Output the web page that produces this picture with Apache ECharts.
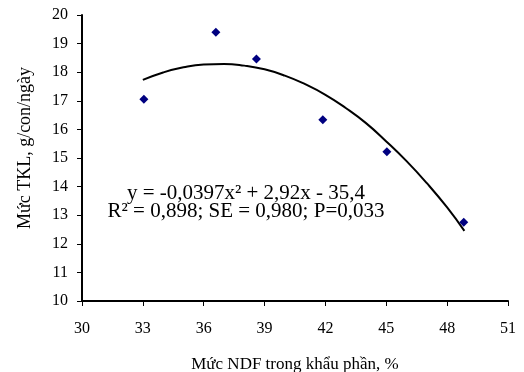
<!DOCTYPE html>
<html>
<head>
<meta charset="utf-8">
<script src="https://cdn.jsdelivr.net/npm/echarts@6/dist/echarts.min.js"></script>
<style>html,body{margin:0;padding:0;background:#fff;}#c{width:524px;height:372px;}</style>
</head>
<body>
<div id="c"></div>
<script>
// Observed data points (NDF %, TKL g/con/ngày)
const ndfPoints = [33.05, 36.6, 38.6, 41.87, 45.03, 48.82];
const tklPoints = [17.05, 19.40, 18.46, 16.34, 15.22, 12.75];
// Trend curve
const curveX = [33, 34, 35, 36, 37, 38, 39, 40, 41, 42, 43, 44, 45, 46, 47, 48, 48.85];
const curveY = [17.73, 17.99, 18.17, 18.27, 18.29, 18.23, 18.10, 17.88, 17.58, 17.21, 16.75, 16.22, 15.58, 14.89, 14.12, 13.27, 12.45];
const xTicks = [30, 33, 36, 39, 42, 45, 48, 51];
const yTicks = [10, 11, 12, 13, 14, 15, 16, 17, 18, 19, 20];
const eqLine1 = 'y = -0,0397x² + 2,92x - 35,4';
const eqLine2 = 'R² = 0,898; SE = 0,980; P=0,033';
const xTitle = 'Mức NDF trong khẩu phần, %';
const yTitle = 'Mức TKL, g/con/ngày';

const FONT = "'Liberation Serif', 'Times New Roman', serif";
const chart = echarts.init(document.getElementById('c'), null, {renderer: 'canvas'});
chart.setOption({
  animation: false,
  backgroundColor: '#fff',
  grid: {left: 82, right: 16, top: 15, bottom: 71, containLabel: false, outerBoundsMode: 'none'},
  xAxis: {
    type: 'value', min: xTicks[0], max: xTicks[xTicks.length - 1], interval: 3,
    axisLine: {show: true, lineStyle: {color: '#000', width: 2}},
    axisTick: {show: true, length: 5, lineStyle: {color: '#000', width: 1}},
    axisLabel: {margin: 20, color: '#000', fontFamily: FONT, fontSize: 16},
    splitLine: {show: false},
    name: xTitle, nameLocation: 'middle', nameGap: 55,
    nameTextStyle: {color: '#000', fontFamily: FONT, fontSize: 17}
  },
  yAxis: {
    type: 'value', min: yTicks[0], max: yTicks[yTicks.length - 1], interval: 1,
    axisLine: {show: true, lineStyle: {color: '#000', width: 2}},
    axisTick: {show: true, length: 5, lineStyle: {color: '#000', width: 1}},
    axisLabel: {margin: 14, color: '#000', fontFamily: FONT, fontSize: 16},
    splitLine: {show: false}
  },
  graphic: [
    {type: 'text', x: 25, y: 148, rotation: Math.PI / 2,
     style: {text: yTitle, font: '18px ' + FONT, fill: '#000', textAlign: 'center', textVerticalAlign: 'middle'}},
    {type: 'text', x: 246, y: 193,
     style: {text: eqLine1, font: '21px ' + FONT, fill: '#000', textAlign: 'center', textVerticalAlign: 'middle'}},
    {type: 'text', x: 246, y: 211,
     style: {text: eqLine2, font: '21px ' + FONT, fill: '#000', textAlign: 'center', textVerticalAlign: 'middle'}}
  ],
  series: [
    {type: 'line', data: curveX.map((x, i) => [x, curveY[i]]), smooth: true, showSymbol: false,
     lineStyle: {color: '#000', width: 2}, z: 2},
    {type: 'scatter', data: ndfPoints.map((x, i) => [x, tklPoints[i]]), symbol: 'diamond', symbolSize: 9,
     itemStyle: {color: '#000080', opacity: 1}, z: 3}
  ]
});
</script>
</body>
</html>
